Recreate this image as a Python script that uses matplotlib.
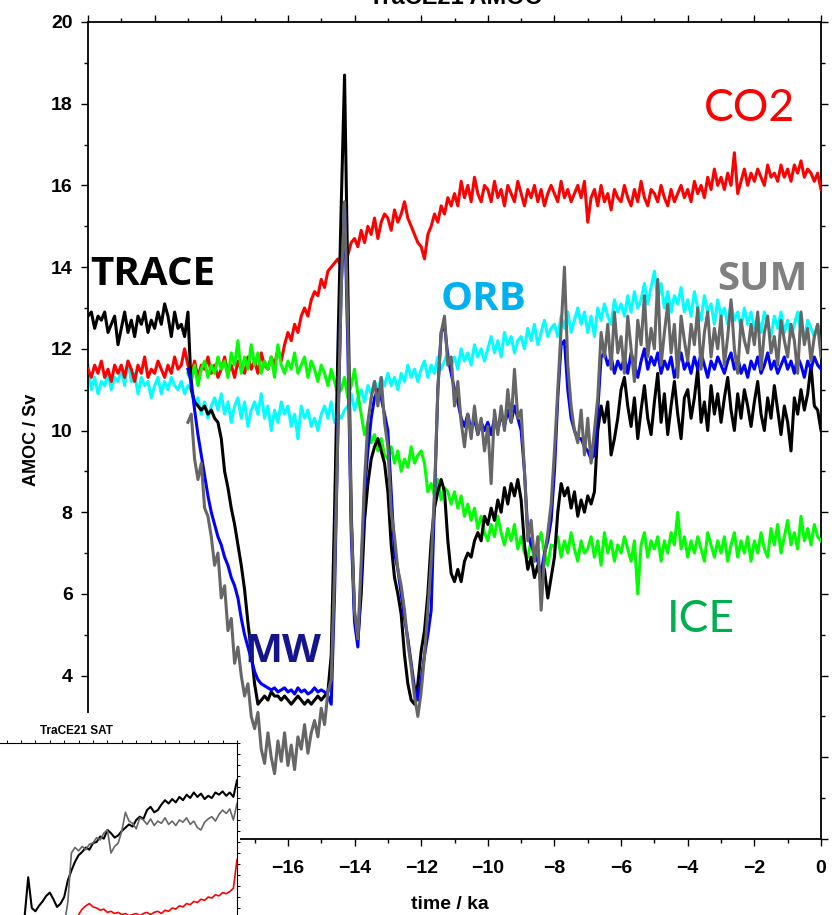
import matplotlib.pyplot as plt
from matplotlib.patches import Rectangle
from matplotlib.ticker import MultipleLocator, NullFormatter
import numpy as np

plt.rcParams['font.family'] = ['Liberation Sans', 'DejaVu Sans']
plt.rcParams['font.weight'] = 'bold'

# model time axis (ka), 100-yr steps
time_full = np.round(np.arange(-22.0, 0.05, 0.1), 1)
time_mw = np.round(np.arange(-19.0, 0.05, 0.1), 1)

# AMOC / Sv
trace = [
    12.8, 12.9, 12.5, 12.8, 12.7, 12.9, 12.4, 12.6, 12.8, 12.1,
    12.5, 12.9, 12.4, 12.7, 12.3, 12.8, 12.6, 12.9, 12.4, 12.7,
    12.5, 12.9, 12.6, 13.1, 12.8, 12.3, 12.9, 12.5, 12.6, 12.3,
    12.9, 11.0, 10.7, 10.6, 10.5, 10.6, 10.4, 10.5, 10.3, 10.2,
    9.8, 9.0, 8.6, 8.1, 7.7, 7.2, 6.7, 6.1, 5.3, 4.6,
    3.8, 3.3, 3.4, 3.5, 3.4, 3.6, 3.5, 3.5, 3.4, 3.5,
    3.4, 3.3, 3.4, 3.5, 3.4, 3.3, 3.4, 3.3, 3.4, 3.5,
    3.4, 3.5, 3.6, 4.5, 8.0, 12.0, 15.5, 18.7, 13.5, 8.0,
    5.5, 4.9, 6.0, 7.8, 8.7, 9.3, 9.6, 9.8, 9.5, 9.2,
    8.5, 7.2, 6.4, 6.0, 5.5, 4.5, 3.8, 3.4, 3.3, 3.8,
    4.6, 5.1, 6.0, 7.3, 8.1, 8.5, 8.8, 8.5, 7.3, 6.5,
    6.3, 6.6, 6.3, 6.8, 7.0, 6.9, 7.3, 7.5, 7.3, 7.9,
    7.7, 8.1, 7.8, 8.3, 8.0, 8.6, 8.2, 8.7, 8.4, 8.8,
    8.3, 7.2, 6.6, 6.9, 6.4, 6.7, 6.3, 6.6, 5.9, 6.4,
    6.9, 8.0, 8.7, 8.4, 8.6, 8.1, 8.5, 7.9, 8.3, 8.0,
    8.4, 8.2, 8.5, 10.0, 10.6, 10.2, 10.7, 9.4, 9.8, 10.3,
    11.0, 11.3, 10.6, 10.1, 10.8, 9.8, 10.5, 11.1, 10.3, 9.9,
    10.7, 11.4, 10.2, 10.9, 9.9, 10.6, 11.2, 10.4, 9.8, 10.8,
    11.0, 10.3, 10.8, 11.5, 10.2, 10.7, 10.0, 11.1, 10.4, 10.9,
    10.2, 10.8, 11.3, 10.5, 10.0, 10.9, 10.3, 11.0, 10.6, 10.1,
    10.7, 11.2, 10.4, 10.0, 10.8, 10.3, 11.1, 10.5, 9.9, 10.6,
    10.2, 9.5, 10.8, 10.4, 11.0, 10.5, 10.9, 11.6, 10.6, 10.5,
    10.0,
]

orb = [
    11.6, 11.0, 11.3, 10.9, 11.2, 11.1, 11.4, 11.0, 11.3, 11.2,
    11.5, 11.1, 11.7, 11.2, 11.4, 10.9, 11.3, 11.1, 11.2, 10.8,
    11.1, 11.3, 10.9, 11.2, 11.0, 11.3, 11.1, 11.0, 11.2, 10.9,
    11.1, 11.0, 10.6, 10.8, 10.4, 10.7, 10.3, 10.6, 10.8, 10.5,
    10.9, 10.4, 10.7, 10.2, 10.6, 10.8, 10.3, 10.7, 10.1, 10.5,
    10.7, 10.4, 10.9, 10.3, 10.6, 10.0, 10.5, 10.2, 10.7, 10.4,
    10.6, 10.1, 10.4, 9.8, 10.6, 10.3, 10.5, 10.1, 10.3, 10.0,
    10.4, 10.6, 10.3, 10.7, 10.2, 10.4, 10.3, 10.5, 10.6, 10.9,
    10.5, 10.8, 11.0, 10.7, 11.1, 10.9, 11.2, 11.0, 11.3, 11.1,
    11.4, 11.1, 11.3, 11.0, 11.4, 11.2, 11.6, 11.3, 11.5, 11.2,
    11.5, 11.7, 11.3, 11.6, 11.4, 11.8, 11.5, 11.7, 11.9, 11.6,
    11.8, 11.5, 12.0, 11.7, 11.9, 11.6, 12.1, 11.8, 12.0, 11.7,
    12.0, 12.3, 11.9, 12.2, 11.8, 12.4, 12.1, 12.3, 11.9, 12.2,
    12.3, 12.0, 12.5, 12.2, 12.6, 12.1, 12.4, 12.7, 12.3, 12.5,
    12.6, 12.3, 12.8, 12.5, 12.9, 12.4, 12.7, 13.0, 12.6, 12.9,
    12.4, 12.8, 12.3, 13.0, 12.7, 13.1, 12.8, 12.6, 13.2, 12.9,
    13.1, 12.8, 13.3, 12.9, 13.4, 13.0, 13.2, 13.6, 13.1, 13.5,
    13.9, 13.2, 13.6, 13.0, 13.4, 12.9, 13.3, 13.1, 13.5, 12.9,
    13.2, 12.8, 13.4, 13.0, 12.7, 13.3, 12.9, 13.1, 12.6, 13.2,
    12.8, 13.0, 12.6, 13.1, 12.7, 12.9, 12.5, 13.0, 12.6, 12.9,
    12.5, 12.8, 12.4, 12.9, 12.6, 12.3, 12.8, 12.5, 12.9, 12.4,
    12.7, 12.3, 12.6, 12.9, 12.4, 12.2, 12.7, 12.5, 12.3, 12.6,
    12.3,
]

co2 = [
    11.5, 11.3, 11.6, 11.4, 11.7, 11.3, 11.5, 11.2, 11.6, 11.4,
    11.6, 11.3, 11.7, 11.5, 11.2, 11.6, 11.4, 11.8, 11.3, 11.5,
    11.4, 11.7, 11.5, 11.3, 11.6, 11.4, 11.8, 11.5, 11.6, 12.0,
    11.6, 11.4, 11.7, 11.3, 11.6, 11.5, 11.8, 11.4, 11.6, 11.3,
    11.5, 11.8, 11.4, 11.6, 11.3, 11.7, 11.5, 11.4, 11.8, 11.5,
    11.7, 11.4, 11.9, 11.6, 11.5, 11.8, 11.6, 12.0, 11.7, 12.1,
    12.4, 12.2, 12.6, 12.4, 12.8, 13.0, 12.8, 13.2, 13.4, 13.3,
    13.7, 13.5, 13.9, 14.0, 14.1, 14.2, 14.0, 14.4, 14.3, 14.6,
    14.7, 14.5, 14.9, 14.6, 15.0, 14.8, 15.2, 14.7, 15.1, 15.3,
    15.2, 14.9, 15.4, 15.1, 15.3, 15.6, 15.2, 15.0, 14.8, 14.6,
    14.5, 14.2, 14.8, 15.0, 15.3, 15.1, 15.5, 15.3, 15.7, 15.5,
    15.8, 15.5, 16.1, 15.7, 16.0, 15.6, 16.2, 15.8, 15.6, 16.0,
    15.9, 15.6, 16.1, 15.7, 15.9, 15.5, 16.0, 15.8, 15.6, 16.1,
    15.8, 15.5, 15.9, 15.7, 16.0, 15.6, 15.9, 15.5, 15.8, 16.0,
    15.8, 15.6, 16.1, 15.7, 15.9, 15.6, 15.8, 16.0, 15.7, 16.1,
    15.1, 15.7, 15.9, 15.5, 16.0, 15.6, 15.8, 15.4, 15.9, 15.7,
    15.6, 16.0, 15.7, 15.5, 15.9, 15.6, 16.1, 15.7, 15.5, 15.9,
    15.8, 15.6, 16.0, 15.7, 15.5, 15.9, 15.6, 15.8, 16.0, 15.7,
    15.9, 15.6, 16.1, 15.8, 16.0, 15.7, 16.2, 15.9, 16.4, 16.0,
    16.2, 15.9, 16.3, 16.0, 16.8, 15.8, 16.1, 16.4, 16.0, 16.3,
    16.1, 16.4, 16.2, 16.0, 16.5, 16.2, 16.3, 16.1, 16.5, 16.2,
    16.4, 16.1, 16.5, 16.3, 16.6, 16.2, 16.4, 16.3, 16.1, 16.3,
    15.9,
]

ice = [
    11.4, 11.2, 11.6, 11.1, 11.5, 11.7, 11.3, 11.6, 11.4, 11.8,
    11.5, 11.7, 11.3, 11.9, 11.6, 12.2, 11.4, 11.8, 11.5, 12.1,
    11.6, 11.9, 11.4, 11.7, 11.5, 11.8, 11.3, 12.1, 11.6, 11.4,
    11.7, 11.5, 11.9, 11.4, 11.6, 11.8, 11.3, 11.7, 11.5, 11.2,
    11.6, 11.4, 11.1, 11.5, 11.2, 10.9, 11.0, 11.3, 10.8, 11.1,
    11.5, 10.9, 10.4, 9.9, 10.2, 9.7, 9.9, 9.5, 9.8, 9.4,
    9.3, 9.6, 9.2, 9.5, 9.0, 9.3, 9.1, 9.6, 9.2, 9.4,
    9.5, 9.2, 8.5, 8.7, 8.4, 8.8, 8.3, 8.6, 8.5, 8.2,
    8.5, 8.1, 8.4, 7.9, 8.2, 7.8, 8.1, 7.6, 7.9, 7.5,
    7.3, 7.7, 7.4, 7.9, 7.5, 7.2, 7.6, 7.3, 7.7, 7.1,
    7.4, 7.0, 6.9, 7.3, 6.8, 7.2, 7.5, 7.0, 6.7, 7.2,
    7.15, 7.4, 6.9, 7.3, 7.0, 7.5, 7.1, 6.8, 7.3, 7.0,
    7.1, 7.4, 6.9, 7.3, 6.7, 7.5, 7.0, 7.3, 6.8, 7.2,
    7.0, 7.4, 7.1, 6.8, 7.3, 6.0, 7.2, 7.5, 6.9, 7.3,
    7.1, 7.4, 6.8, 7.3, 7.0, 7.5, 7.2, 8.0, 7.1, 7.4,
    6.9, 7.3, 7.0, 7.4, 7.1, 6.8, 7.5, 7.2, 6.9, 7.3,
    7.0, 7.4, 6.8, 7.2, 7.5, 6.9, 7.3, 7.0, 7.4, 6.8,
    7.3, 7.0, 7.5, 7.1, 6.9, 7.6, 7.2, 7.7, 7.0, 7.4,
    7.8, 7.2, 7.5, 7.1, 7.9, 7.3, 7.6, 7.2, 7.7, 7.4,
    7.3,
]

mw = [
    11.5, 11.2, 10.5, 9.9, 9.4, 8.9, 8.4, 8.0, 7.7, 7.4,
    7.2, 6.9, 6.7, 6.4, 6.2, 5.9, 5.4, 5.0, 4.7, 4.4,
    4.1, 3.9, 3.8, 3.75, 3.7, 3.65, 3.7, 3.6, 3.65, 3.7,
    3.6, 3.65, 3.55, 3.7, 3.6, 3.65, 3.55, 3.6, 3.7, 3.6,
    3.65, 3.6, 3.5, 3.3, 6.0, 10.0, 13.5, 15.5, 12.0, 7.5,
    5.3, 4.7, 6.5, 8.5, 9.5, 10.3, 10.8, 11.0, 10.8, 10.4,
    10.0, 8.5, 7.0, 6.6, 6.0, 5.4, 4.9, 4.3, 3.7, 3.4,
    3.9, 4.5, 5.0, 5.6, 8.3, 11.0, 12.4, 12.6, 11.8, 11.4,
    11.0, 10.7, 10.3, 10.1, 10.4, 10.0, 10.3, 9.9, 10.2, 10.0,
    10.2, 9.9, 10.3, 10.0, 10.4, 10.1, 10.5, 10.2, 10.6, 10.3,
    10.0, 9.0, 7.5, 7.2, 7.0, 6.8, 6.5, 7.0, 7.3, 7.8,
    9.0, 10.8, 12.1, 12.2, 11.0, 10.3, 10.0, 9.8, 9.8, 9.6,
    9.5, 9.3, 9.4, 10.5, 11.8, 11.9, 11.6, 11.8, 11.4, 11.7,
    11.5, 11.8, 11.4, 11.9, 11.6, 11.3, 11.7, 12.0, 11.5, 11.8,
    11.6, 11.9, 11.4, 11.7, 11.5, 11.8, 11.3, 11.6, 11.9, 11.5,
    11.7, 11.4, 11.8, 11.5, 11.9, 11.6, 11.3, 11.7, 11.5, 11.8,
    11.6, 11.4, 11.7, 11.9, 11.5, 11.8, 11.4, 11.6, 11.3, 11.7,
    11.5, 11.8, 11.4, 11.6, 11.9, 11.5, 11.7, 11.4, 11.6, 11.8,
    11.5, 11.7, 11.4, 11.8, 11.6, 11.3, 11.7, 11.5, 11.8, 11.6,
    11.5,
]

total = [
    10.2, 10.4, 9.3, 8.8, 9.2, 8.1, 7.9, 7.4, 6.7, 7.0,
    5.9, 6.2, 5.1, 5.4, 4.3, 4.7, 4.0, 3.5, 3.8, 3.0,
    2.7, 3.1, 2.2, 1.85, 2.6, 2.0, 1.6, 2.4, 1.9, 2.6,
    1.8, 2.3, 1.7, 2.5, 2.2, 2.8, 2.1, 2.6, 2.9, 2.5,
    3.2, 2.8, 3.6, 3.9, 6.5, 10.0, 13.5, 15.6, 12.5, 7.8,
    5.6, 4.9, 6.8, 8.8, 10.2, 10.8, 11.2, 10.6, 11.3, 10.2,
    9.6, 8.0, 7.4, 6.6, 6.2, 5.6, 4.8, 4.2, 3.5, 3.0,
    3.6, 4.5, 5.6, 6.8, 8.5, 11.0, 12.4, 12.8, 11.6, 11.8,
    10.6, 11.2, 10.2, 9.6, 10.4, 9.8, 10.6, 9.9, 10.3, 9.5,
    10.1, 8.7, 10.5, 9.9, 10.6, 10.0, 11.0, 10.2, 11.5, 10.3,
    10.5, 9.0, 7.3, 7.8, 6.8, 7.4, 5.6, 6.9, 7.5, 8.2,
    9.5, 11.0, 12.5, 14.0, 11.6, 10.6, 10.0, 9.7, 10.5, 9.4,
    10.3, 9.2, 10.0, 10.8, 12.4, 11.8, 12.6, 11.5, 12.9, 11.9,
    12.3, 11.4, 12.8, 12.0, 11.2, 12.7, 12.1, 13.3, 11.8, 12.5,
    12.0, 13.7, 11.6, 12.4, 13.1, 11.9, 12.6, 11.3, 12.8, 12.2,
    11.7, 12.6, 12.1, 13.0, 11.5, 12.4, 12.9, 11.8, 12.5, 12.0,
    12.8, 11.6, 12.3, 13.2, 12.0, 11.4, 12.7, 12.2, 11.9, 12.6,
    12.1, 12.9, 11.5, 12.4, 12.8, 11.9, 12.3, 11.6, 12.7, 12.2,
    11.8, 12.6, 12.2, 11.4, 12.9, 12.1, 12.5, 11.7, 12.3, 12.6,
    11.8,
]

# inset "TraCE21 SAT" (own plotting units)
sat_time_trace = np.arange(-15.0, 0.01, 0.25)
sat_trace = [
    4.0, 8.2, 11.8, 9.0, 8.7, 9.2, 9.6, 10.1, 10.4, 9.8, 9.1, 9.4, 10.0,
    11.5, 12.4, 13.2, 13.8, 14.1, 14.5, 14.3, 14.9, 15.0, 15.5, 15.3, 16.1,
    15.8, 15.4, 15.6, 16.0, 16.3, 16.6, 16.4, 17.0, 17.3, 17.1, 17.9, 18.2,
    17.7, 17.9, 18.4, 18.8, 18.5, 18.9, 18.6, 19.1, 18.8, 19.3, 19.0, 19.5,
    19.1, 19.4, 18.9, 19.2, 19.0, 19.5, 19.3, 19.6, 19.2, 19.5, 19.1, 20.6,
]
sat_time_sum = np.arange(-12.25, 0.01, 0.25)
sat_sum = [
    6.0, 7.5, 9.5, 14.0, 14.5, 14.2, 14.6, 14.3, 14.8, 14.9, 15.4, 15.2,
    15.8, 16.1, 14.0, 14.6, 14.9, 16.0, 17.7, 16.9, 16.7, 16.2, 17.2, 17.0,
    16.6, 17.1, 16.5, 16.9, 16.7, 17.2, 16.6, 16.9, 16.5, 17.0, 16.8, 17.2,
    16.6, 16.9, 16.3, 16.1, 16.8, 17.1, 17.3, 16.9, 17.5, 17.9, 17.6, 18.0,
    17.0, 18.5,
]
sat_time_co2 = np.arange(-11.25, 0.01, 0.25)
sat_co2 = [
    7.6, 8.4, 8.9, 9.2, 9.4, 9.1, 9.0, 8.8, 8.9, 8.6, 8.7, 8.5, 8.6, 8.4,
    8.5, 8.3, 8.4, 8.5, 8.3, 8.5, 8.6, 8.4, 8.6, 8.7, 8.5, 8.8, 8.7, 9.0,
    8.9, 9.2, 9.1, 9.4, 9.3, 9.6, 9.5, 9.8, 9.7, 10.0, 9.9, 10.2, 10.1,
    10.4, 10.3, 10.5, 10.8, 13.4,
]

W, H = 836, 915
fig = plt.figure(figsize=(W / 100, H / 100), dpi=100)
ax = fig.add_axes([88 / W, 76 / H, 733 / W, 817 / H])

lw = 2.2
ax.plot(time_full, orb, color='#00ffff', lw=lw, zorder=2)
ax.plot(time_full, co2, color='#ff0000', lw=lw, zorder=3)
ax.plot(time_mw, ice, color='#00ff00', lw=lw, zorder=4)
ax.plot(time_full, trace, color='black', lw=lw, zorder=5)
ax.plot(time_mw, mw, color='#0000ff', lw=lw, zorder=6)
ax.plot(time_mw, total, color='#666666', lw=lw, zorder=7)

ax.set_xlim(-22, 0)
ax.set_ylim(0, 20)
ax.xaxis.set_major_locator(MultipleLocator(2))
ax.xaxis.set_minor_locator(MultipleLocator(1))
ax.yaxis.set_major_locator(MultipleLocator(2))
ax.yaxis.set_minor_locator(MultipleLocator(1))
ax.tick_params(which='both', direction='out', top=True, right=True, width=1.0)
ax.tick_params(which='major', length=5, labelsize=14)
ax.tick_params(axis='x', which='major', pad=10)
ax.tick_params(axis='y', which='major', pad=6)
ax.tick_params(which='minor', length=2.8)
for s in ax.spines.values():
    s.set_linewidth(1.3)

fig.text(455 / W, 1 - 4 / H, 'TraCE21 AMOC', ha='center', va='baseline', fontsize=17)
fig.text(450 / W, 1 - 909 / H, 'time / ka', ha='center', va='baseline', fontsize=14)
fig.text(31 / W, 1 - 440 / H, 'AMOC / Sv', ha='center', va='center', rotation=90, fontsize=13)

# series names
lab = dict(family=['Open Sans', 'DejaVu Sans'], weight='bold', fontsize=29, va='baseline', ha='left')
fig.text(90 / W, 1 - 285 / H, 'TRACE', color='black', **lab)
fig.text(441 / W, 1 - 310 / H, 'ORB', color='#00b0f0', **lab)
fig.text(717 / W, 1 - 290 / H, 'SUM', color='#808080', **lab)
fig.text(244 / W, 1 - 662 / H, 'MW', color='#16168c', **lab)
thin = dict(family=['Lato', 'DejaVu Sans'], weight='normal', fontsize=32, va='baseline', ha='left')
fig.text(704 / W, 1 - 121 / H, 'CO2', color='#ff0000', **thin)
fig.text(667 / W, 1 - 632 / H, 'ICE', color='#00b050', **thin)

# white box behind the inset
fig.add_artist(Rectangle((0, 0), 240 / W, (H - 713) / H, transform=fig.transFigure,
                         facecolor='white', edgecolor='none', zorder=1))

ins = fig.add_axes([-7.8 / W, (H - 1007) / H, 244.8 / W, 264 / H], zorder=2)
ins.plot(sat_time_trace, sat_trace, color='black', lw=1.5)
ins.plot(sat_time_sum, sat_sum, color='#666666', lw=1.2)
ins.plot(sat_time_co2, sat_co2, color='#ff0000', lw=1.2)
ins.set_xlim(-17, 0)
ins.set_ylim(0, 24)
ins.xaxis.set_major_locator(MultipleLocator(1))
ins.yaxis.set_major_locator(MultipleLocator(1))
ins.xaxis.set_major_formatter(NullFormatter())
ins.yaxis.set_major_formatter(NullFormatter())
ins.tick_params(direction='out', top=True, right=True, length=2.5, width=0.7)
for s in ins.spines.values():
    s.set_linewidth(0.8)
fig.text(76 / W, 1 - 734 / H, 'TraCE21 SAT', ha='center', va='baseline', fontsize=8.5, zorder=5)

fig.savefig('out.png', dpi=100)
